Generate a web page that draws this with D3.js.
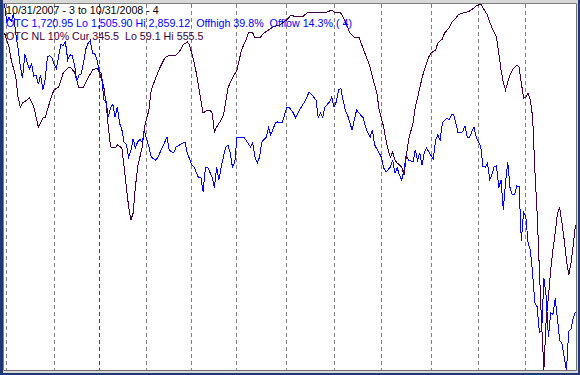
<!DOCTYPE html>
<html>
<head>
<meta charset="utf-8">
<script src="https://cdn.jsdelivr.net/npm/d3@7"></script>
<style>
  html, body { margin: 0; padding: 0; background: #1f3a73; }
  svg { display: block; }
  text { white-space: pre; }
</style>
</head>
<body>
<script>
// OTC (Nasdaq) close vs. OTC NL 10% line, 10/31/2007 .. 10/31/2008
// x = trading day index (0 = 10/31/2007, 253 = 10/31/2008)

const titleText = "10/31/2007 - 3 to 10/31/2008 - 4";
const otcText = "OTC 1,720.95 Lo 1,505.90 Hi 2,859.12  Offhigh 39.8%  Offlow 14.3% ( 4)";
const nlText = "OTC NL 10% Cur 345.5  Lo 59.1 Hi 555.5";

const otcLo = 1505.90, otcHi = 2859.12;
const nlLo = 59.1, nlHi = 555.5;

// first trading day of each month, Jan 2008 marked red
const gridDays = [1, 22, 42, 63, 83, 103, 125, 146, 167, 189, 210, 231];
const redDay = 42;

const otcDay = [
  0,1,2,3,4,5,6,7,8,9,10,11,12,13,14,15,16,17,18,19,20,
  21,22,23,24,25,26,27,28,29,30,31,32,33,34,35,36,37,38,39,40,41,
  42,43,44,45,46,47,48,49,50,51,52,53,54,55,56,57,58,59,60,61,62,
  64,65,67,68,70,72,73,75,76,79,80,81,83,84,86,87,88,89,90,92,93,94,95,96,98,99,
  100,101,102,103,105,106,107,109,110,111,112,113,114,116,117,118,120,121,123,125,
  126,128,129,130,132,133,135,137,138,139,140,141,142,144,145,146,147,148,149,150,
  151,152,154,155,156,157,159,160,161,162,163,164,166,167,168,169,171,172,173,174,
  175,176,177,178,179,181,182,183,184,185,186,187,188,190,191,192,193,194,196,197,
  198,199,200,201,203,204,205,206,207,208,209,
  210,211,212,213,214,215,216,217,218,219,220,221,222,223,224,225,226,227,228,229,230,
  231,232,233,234,235,236,237,238,239,240,241,242,243,244,245,246,247,248,249,250,251,252,253
];
const otcClose = [
  2859.12,2794.83,2810.38,2795.18,2825.18,2748.76,2696.00,2627.94,2584.13,2673.65,2644.31,
  2618.51,2637.24,2593.38,2596.81,2562.15,2596.60,2540.99,2580.80,2662.91,2668.13,
  2660.96,2637.13,2619.83,2666.36,2709.03,2706.16,2718.95,2652.35,2671.14,2668.49,
  2635.74,2574.46,2596.03,2601.01,2640.86,2691.99,2713.50,2724.41,2676.79,2674.46,2652.28,
  2609.63,2602.68,2504.65,2499.46,2440.51,2474.55,2488.52,2439.94,2478.30,2417.59,
  2394.59,2346.90,2340.02,2292.27,2316.41,2360.92,2326.20,2349.91,2358.06,2349.00,2389.86,
  2330,2293,2282,2293,2330,2367,2319,2308,2330,2345,2349,2308,2264,2256,2216,2219,2164,
  2253,2256,2219,2179,2256,2208,2256,2330,2338,
  2308,2256,2271,2364,2364,2367,2356,2330,2345,2293,2271,2293,2349,2367,2401,2375,2419,
  2423,2419,2475,
  2478,2456,2438,2456,2486,2497,2534,2515,2504,2441,2456,2441,2478,2497,2515,2478,2497,
  2541,2548,2504,
  2467,2449,2393,2430,2467,2456,2438,2404,2382,2367,2393,2338,2308,2293,2253,2238,2256,
  2282,2234,2253,
  2227,2208,2245,2301,2282,2275,2319,2282,2308,2264,2308,2327,2312,2286,2356,2375,2356,
  2419,2438,2430,
  2449,2449,2419,2382,2386,2408,2367,2364,2386,2404,2367.52,
  2349.24,2333.73,2259.04,2255.88,2269.76,2209.81,2228.70,2258.22,2261.27,2179.91,2207.90,
  2098.85,2199.10,2273.90,2178.98,2153.33,2155.68,2186.57,2183.34,1983.73,2091.88,
  2069.40,1976.72,1947.39,1862.96,1754.88,1740.33,1645.12,1649.51,1844.25,1779.01,1628.33,
  1717.71,1711.29,1770.03,1696.68,1615.75,1603.91,1552.03,1505.90,1649.47,1657.21,1698.52,1720.95
];

const nlDay = [
  0,2,3,5,6,7,8,10,11,13,14,15,17,18,19,21,22,24,26,28,29,31,32,33,35,37,39,41,
  42,44,45,46,47,49,50,52,53,54,55,56,57,58,59,61,62,64,65,67,69,71,73,76,78,79,
  81,82,84,85,86,87,88,90,91,92,93,94,96,97,98,99,101,103,104,105,107,108,110,111,
  113,115,117,119,122,125,127,129,132,134,137,138,141,143,145,146,149,150,152,153,
  155,157,158,160,162,163,165,166,168,169,170,171,172,173,174,176,177,178,179,181,
  182,183,184,185,186,187,188,189,191,192,194,195,197,198,200,201,203,205,206,208,
  209,211,212,214,215,216,218,219,220,221,222,223,224,225,227,228,229,230,231,232,
  233,234,235,236,237,238,239,240,241,242,243,244,245,246,247,248,249,250,251,252,253
];
const nlValue = [
  516.2,497.2,479.6,456.5,429.4,415.8,421.2,425.3,428.0,415.8,402.2,388.7,400.9,400.9,
  411.7,432.1,438.9,442.9,461.9,468.7,470.1,463.3,452.4,441.6,442.9,455.1,466.0,468.7,
  463.3,442.9,421.2,388.7,361.6,360.2,364.3,360.2,334.4,307.3,280.2,262.5,272.0,307.3,
  334.4,361.6,388.7,411.7,438.9,455.1,470.1,482.3,486.3,486.3,493.1,499.9,
  504.0,499.9,476.8,461.9,442.9,425.3,407.7,411.7,411.7,407.7,381.9,388.7,398.2,405.0,
  422.6,441.6,455.1,466.0,479.6,493.1,506.7,516.2,516.2,509.4,
  509.4,516.2,520.2,524.3,527.0,533.8,540.6,537.9,537.9,543.3,543.3,544.7,543.3,544.7,
  547.4,544.7,543.3,537.9,524.3,516.2,
  510.7,510.7,502.6,486.3,470.1,456.5,434.8,411.7,388.7,371.0,357.5,348.0,354.8,343.9,
  339.9,334.4,323.6,348.0,371.0,394.1,
  415.8,428.0,441.6,455.1,466.0,475.5,483.6,489.1,493.1,502.6,508.0,516.2,523.0,529.7,
  536.5,540.6,543.3,544.7,546.0,550.1,
  552.8,555.5,550.1,540.6,531.1,523.0,510.7,489.1,466.0,449.7,438.9,449.7,459.2,466.0,
  472.8,470.1,448.4,428.0,429.4,434.8,
  425.3,402.2,330.4,272.0,194.7,120.1,59.1,126.9,158.1,194.7,221.9,244.9,272.0,278.8,
  258.5,235.4,208.3,187.9,204.2,228.6,255.8
];

const W = 580, H = 375;
const plot = { left: 4, top: 4, right: 576, bottom: 370 };

const svg = d3.select("body").append("svg")
  .attr("width", W)
  .attr("height", H);

// window frame
svg.append("rect")
  .attr("x", 0).attr("y", 0).attr("width", W).attr("height", H)
  .attr("fill", "#1f3a73");
svg.append("rect")
  .attr("x", 3).attr("y", 0).attr("width", 575).attr("height", 373)
  .attr("fill", "#d8d8d8");
svg.append("rect")
  .attr("x", plot.left).attr("y", plot.top)
  .attr("width", plot.right - plot.left).attr("height", plot.bottom - plot.top)
  .attr("fill", "#ffffff");
// sunken border
svg.append("path")
  .attr("d", `M${plot.left - 0.5},${plot.bottom}V${plot.top - 0.5}H${plot.right}`)
  .attr("fill", "none").attr("stroke", "#808080");
svg.append("path")
  .attr("d", `M${plot.left - 0.5},${plot.bottom + 0.5}H${plot.right + 0.5}V${plot.top - 0.5}`)
  .attr("fill", "none").attr("stroke", "#6e6e6e");

let x = d3.scaleLinear()
  .domain([0, 253])
  .range([4.5, 575.5]);

let yOtc = d3.scaleLinear()
  .domain([otcLo, otcHi])
  .range([plot.bottom, plot.top]);

let yNl = d3.scaleLinear()
  .domain([nlLo, nlHi])
  .range([plot.bottom, plot.top]);

svg.append("clipPath").attr("id", "plotclip")
  .append("rect")
  .attr("x", plot.left).attr("y", plot.top)
  .attr("width", plot.right - plot.left).attr("height", plot.bottom - plot.top);

// monthly dashed lines
svg.append("g")
  .selectAll("line")
  .data(gridDays).enter().append("line")
    .attr("x1", (d) => Math.floor(x(d)) + 0.5)
    .attr("x2", (d) => Math.floor(x(d)) + 0.5)
    .attr("y1", plot.top)
    .attr("y2", plot.bottom)
    .attr("stroke", (d) => d == redDay ? "#e00000" : "#808080")
    .attr("stroke-dasharray", "4,3")
    .attr("shape-rendering", "crispEdges");

const lines = svg.append("g").attr("clip-path", "url(#plotclip)");

let nlLine = d3.line()
  .x((d, i) => x(nlDay[i]))
  .y((d) => yNl(d));

let otcLine = d3.line()
  .x((d, i) => x(otcDay[i]))
  .y((d) => yOtc(d));

lines.append("path")
  .attr("d", nlLine(nlValue))
  .attr("fill", "none")
  .attr("stroke", "#400040")
  .attr("stroke-width", 1)
  .attr("shape-rendering", "crispEdges");

lines.append("path")
  .attr("d", otcLine(otcClose))
  .attr("fill", "none")
  .attr("stroke", "#0000ff")
  .attr("stroke-width", 1)
  .attr("shape-rendering", "crispEdges");

// header texts
const font = "'Liberation Sans', Arial, sans-serif";
const labels = [
  { t: titleText, c: "#000000", y: 13.5 },
  { t: otcText, c: "#0000ff", y: 26.5 },
  { t: nlText, c: "#400040", y: 39.5 }
];
svg.append("g")
  .selectAll("text")
  .data(labels).enter().append("text")
    .attr("x", 6)
    .attr("y", (d) => d.y)
    .attr("font-family", font)
    .attr("font-size", "10.7px")
    .attr("fill", (d) => d.c)
    .text((d) => d.t);
</script>
</body>
</html>
